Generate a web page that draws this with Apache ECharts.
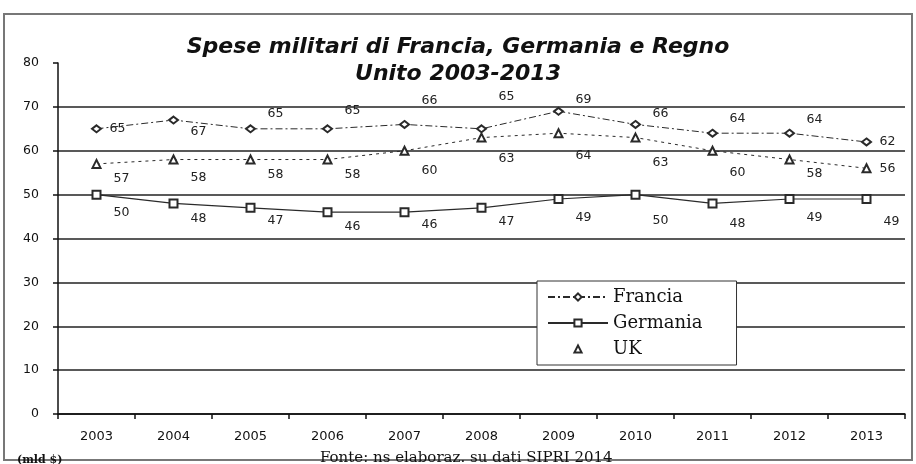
<!DOCTYPE html>
<html>
<head>
<meta charset="utf-8">
<script src="https://cdn.jsdelivr.net/npm/echarts@6/dist/echarts.min.js"></script>
<style>
  html, body { margin: 0; padding: 0; background: #fff; }
  #chart { width: 916px; height: 464px; }
</style>
</head>
<body>
<div id="chart"></div>
<script>
// values (mld $)
const years = ['2003', '2004', '2005', '2006', '2007', '2008', '2009', '2010', '2011', '2012', '2013'];
const francia = [65, 67, 65, 65, 66, 65, 69, 66, 64, 64, 62];
const germania = [50, 48, 47, 46, 46, 47, 49, 50, 48, 49, 49];
const uk = [57, 58, 58, 58, 60, 63, 64, 63, 60, 58, 56];

// where each value label sits relative to its point (px)
const franciaLabelDy = [0, 12, -15, -18, -24, -32, -12, -11, -14, -13, 0];
const germaniaLabelDy = [18, 15, 13, 15, 13, 14, 19, 26, 20, 19, 23];
const ukLabelDy = [15, 18, 15, 15, 20, 21, 23, 25, 22, 14, 0];

const lineColor = '#2a2a2a';
const labelFont = { fontFamily: 'DejaVu Sans', fontSize: 12.5, color: '#222' };

function withLabels (values, dys) {
  return values.map(function (v, i) {
    let dx = (i === 0 || i === values.length - 1) && dys[i] === 0 ? 21 : 25;
    return {
      value: v,
      label: { offset: [dx, dys[i]] }
    };
  });
}

let myChart = echarts.init(document.getElementById('chart'));

let option = {
  animation: false,
  title: [
    {
      text: 'Spese militari di Francia, Germania e Regno\nUnito 2003-2013',
      left: 'center',
      top: 29,
      textStyle: {
        fontFamily: 'DejaVu Sans',
        fontStyle: 'italic',
        fontWeight: 'bold',
        fontSize: 22,
        lineHeight: 27,
        color: '#111'
      }
    },
    {
      text: '(mld $)',
      left: 12,
      top: 450,
      textStyle: { fontFamily: 'DejaVu Serif', fontSize: 11, fontWeight: 'bold', color: '#111' }
    },
    {
      text: 'Fonte: ns elaboraz. su dati SIPRI 2014',
      left: 315,
      top: 446,
      textStyle: { fontFamily: 'DejaVu Serif', fontSize: 15, fontWeight: 'normal', color: '#111' }
    }
  ],
  graphic: [
    {
      type: 'rect',
      shape: { x: 4, y: 14, width: 908, height: 446 },
      style: { fill: 'none', stroke: '#777', lineWidth: 2 },
      z: -1
    }
  ],
  legend: {
    orient: 'vertical',
    left: 537,
    top: 281,
    padding: [7, 34, 7, 10],
    itemGap: 8,
    itemWidth: 60,
    itemHeight: 9,
    borderColor: '#333',
    borderWidth: 1,
    backgroundColor: '#fff',
    textStyle: { fontFamily: 'DejaVu Serif', fontSize: 18, color: '#111' },
    data: [
      { name: 'Francia' },
      { name: 'Germania' },
      { name: 'UK', lineStyle: { width: 0, opacity: 0 } }
    ]
  },
  grid: {
    left: 58,
    right: 11,
    top: 63,
    bottom: 50
  },
  xAxis: {
    type: 'category',
    data: years,
    boundaryGap: true,
    axisLine: { lineStyle: { color: '#111', width: 1.5 } },
    axisTick: { show: true, inside: false, length: 5, lineStyle: { color: '#111', width: 1.5 } },
    axisLabel: { margin: 16, fontFamily: 'DejaVu Sans', fontSize: 13, color: '#111' },
    splitLine: { show: false }
  },
  yAxis: {
    type: 'value',
    min: 0,
    max: 80,
    interval: 10,
    axisLine: { show: true, lineStyle: { color: '#111', width: 1.5 } },
    axisTick: { show: true, length: 5, lineStyle: { color: '#111', width: 1.5 } },
    axisLabel: { margin: 19, fontFamily: 'DejaVu Sans', fontSize: 12.5, color: '#111' },
    splitLine: {
      show: true,
      lineStyle: {
        color: ['#111', '#222', '#222', '#222', '#222', '#222', '#222', '#222', 'rgba(0,0,0,0)'],
        width: 1.5
      }
    }
  },
  series: [
    {
      name: 'Francia',
      type: 'line',
      data: withLabels(francia, franciaLabelDy),
      symbol: 'emptyDiamond',
      symbolSize: [9, 7],
      lineStyle: { color: lineColor, width: 1, type: [7, 3, 2, 3] },
      itemStyle: { color: lineColor, borderWidth: 1 },
      label: Object.assign({ show: true, position: 'inside' }, labelFont),
      z: 3
    },
    {
      name: 'Germania',
      type: 'line',
      data: withLabels(germania, germaniaLabelDy),
      symbol: 'emptyRect',
      symbolSize: 8,
      lineStyle: { color: lineColor, width: 1.2, type: 'solid' },
      itemStyle: { color: lineColor, borderWidth: 1 },
      label: Object.assign({ show: true, position: 'inside' }, labelFont),
      z: 3
    },
    {
      name: 'UK',
      type: 'line',
      data: withLabels(uk, ukLabelDy),
      symbol: 'emptyTriangle',
      symbolSize: 8,
      lineStyle: { color: lineColor, width: 1, type: [3, 4] },
      itemStyle: { color: lineColor, borderWidth: 1 },
      label: Object.assign({ show: true, position: 'inside' }, labelFont),
      z: 3
    }
  ]
};

myChart.setOption(option);
</script>
</body>
</html>
